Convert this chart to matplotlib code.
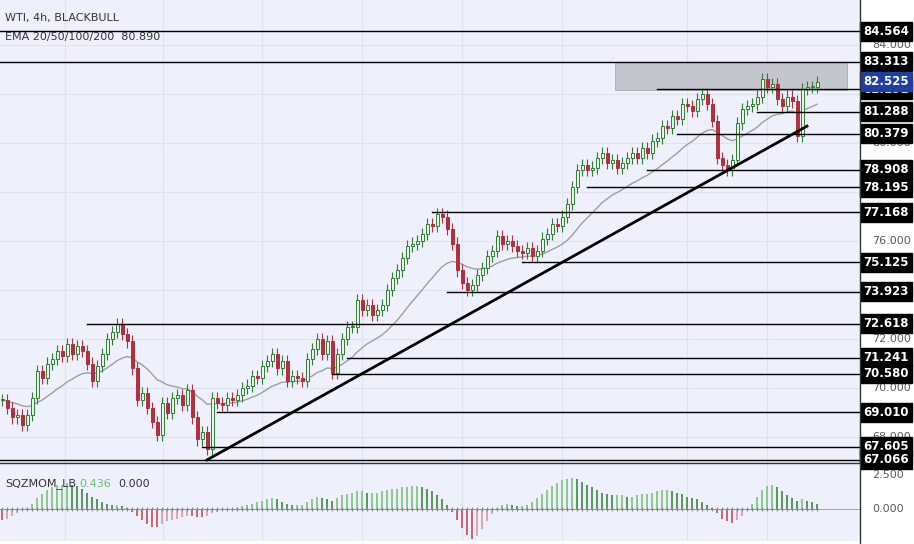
import matplotlib
matplotlib.use("Agg")
import matplotlib.pyplot as plt
from matplotlib.patches import Rectangle
import numpy as np
import pandas as pd

closes = [
    69.5, 69.2, 68.8, 68.9, 68.5,
    68.9, 69.6, 70.7, 70.4, 71.0, 71.2, 71.5,
    71.3, 71.8, 71.4, 71.7, 71.5, 71.0, 70.3,
    70.9, 71.4, 72.0, 72.3, 72.6, 72.2, 71.9,
    70.8, 69.5, 69.8, 69.2, 68.6, 68.1, 69.4,
    69.0, 69.6, 69.7, 69.3, 69.9, 68.8, 67.9,
    68.2, 67.5, 69.6, 69.4, 69.3, 69.6, 69.5,
    69.7, 70.0, 70.1, 70.5, 70.4, 70.9, 71.1,
    71.4, 70.8, 71.1, 70.3, 70.5, 70.4, 70.3,
    71.2, 71.6, 72.0, 71.4, 71.9, 70.6, 71.4,
    72.0, 72.5, 72.5, 73.6, 73.2, 73.4, 73.0,
    73.2, 73.4, 74.0, 74.5, 74.8, 75.3, 75.8,
    75.9, 76.0, 76.3, 76.7, 76.6, 77.1, 77.0,
    76.5, 75.9, 74.8, 74.3, 74.0, 74.2, 74.6,
    74.9, 75.4, 75.6, 76.2, 75.9, 76.0, 75.8,
    75.6, 75.5, 75.7, 75.4, 75.6, 76.1, 76.3,
    76.7, 76.6, 77.0, 77.5, 78.2, 78.9, 79.1,
    78.9, 79.0, 79.4, 79.6, 79.2, 79.3, 79.0,
    79.2, 79.4, 79.6, 79.4, 79.8, 79.6, 80.1,
    80.2, 80.7, 80.6, 81.1, 81.0, 81.6, 81.5,
    81.3, 81.8, 82.0, 81.6, 80.9, 79.4, 79.1,
    78.9, 79.3, 80.8, 81.4, 81.5, 81.6, 81.9,
    82.6, 82.3, 82.4, 81.8, 81.5, 81.9, 81.7,
    80.3, 82.2, 82.3, 82.3, 82.5,
]

momentum = [
    -0.8, -0.7, -0.5, -0.3, -0.1,
    0.1, 0.4, 0.8, 1.1, 1.4, 1.6, 1.8,
    1.8, 1.9, 1.8, 1.7, 1.5, 1.2, 0.9,
    0.7, 0.5, 0.4, 0.3, 0.3, 0.2, 0.1,
    -0.2, -0.5, -0.8, -1.1, -1.3, -1.3, -1.1,
    -0.9, -0.8, -0.7, -0.6, -0.5, -0.5, -0.6,
    -0.6, -0.5, -0.3, -0.2, -0.1, -0.1, 0.0,
    0.1, 0.2, 0.3, 0.4, 0.5, 0.6, 0.7,
    0.8, 0.7, 0.5, 0.4, 0.3, 0.3, 0.3,
    0.5, 0.7, 0.9, 0.8, 0.7, 0.6, 0.8,
    1.0, 1.1, 1.2, 1.3, 1.3, 1.2, 1.2,
    1.2, 1.3, 1.4, 1.5, 1.5, 1.6, 1.6,
    1.7, 1.7, 1.6, 1.5, 1.3, 1.0, 0.7,
    0.3, -0.2, -0.8, -1.4, -1.9, -2.2, -2.0,
    -1.5, -0.9, -0.4, 0.1, 0.3, 0.4, 0.3,
    0.2, 0.2, 0.3, 0.5, 0.8, 1.1, 1.4,
    1.7, 1.9, 2.1, 2.2, 2.3, 2.2, 2.0,
    1.8, 1.6, 1.4, 1.2, 1.1, 1.0, 1.0,
    1.0, 0.9, 0.9, 1.0, 1.1, 1.1, 1.2,
    1.3, 1.4, 1.4, 1.3, 1.2, 1.1, 0.9,
    0.8, 0.7, 0.5, 0.3, 0.1, -0.3, -0.7,
    -0.9, -1.0, -0.8, -0.5, -0.1, 0.4, 0.9,
    1.4, 1.7, 1.8, 1.6, 1.3, 1.0, 0.8,
    0.6, 0.7, 0.6, 0.5, 0.4,
]

# horizontal levels: (price, starting candle index)
levels = [84.564, 83.313, 82.191, 81.288, 80.379, 78.908, 78.195, 77.168,
          75.125, 73.923, 72.618, 71.241, 70.580, 69.010, 67.605, 67.066]
level_start = [-1, -1, 131, 151, 135, 129, 117, 86, 104, 89, 17, 69, 66, 43, 40, -1]
trend_idx = [41, 161]
trend_price = [67.066, 80.69]
zone_idx = [122.5, 169]
zone_price = [82.16, 83.313]
last_price = 82.525
price_ticks = [68, 70, 72, 74, 76, 78, 80, 82, 84]
shown_ticks = [68, 70, 72, 76, 80, 84]  # the others sit fully under level boxes

BG = "#eef1fb"
UP = "#2e7d32"
DOWN = "#b22f3c"

fig = plt.figure(figsize=(9.14, 5.44), dpi=100, facecolor="white")
W, H = 914, 544
ax = fig.add_axes([0, (H - 463) / H, 860 / W, 463 / H])
axm = fig.add_axes([0, (H - 541) / H, 860 / W, (541 - 463) / H])

xs = np.arange(len(closes))
opens = [closes[0]] + closes[:-1]
for a in (ax, axm):
    a.set_facecolor(BG)
    a.set_xlim(-0.4, 171.6)
    for gx in [12.6, 32.2, 52, 72, 92, 112, 137, 153]:
        a.axvline(gx, color="#dfe3ef", lw=0.8, zorder=0)
    a.tick_params(left=False, bottom=False, labelbottom=False, labelleft=False)
    for s in a.spines.values():
        s.set_visible(False)

ax.set_ylim(66.94, 85.84)
for p in price_ticks:
    ax.axhline(p, color="#dfe3ef", lw=0.8, zorder=0)
for p in shown_ticks:
    ax.text(1.014, p, f"{p:.3f}", transform=ax.get_yaxis_transform(), fontsize=8,
            color="#5a5a5a", va="center", ha="left", clip_on=False)

# EMA line
ema = pd.Series(closes).ewm(span=20, adjust=False).mean()
ax.plot(xs, ema, color="#9e9e9e", lw=1.0, zorder=2)

for i, (o, c) in enumerate(zip(opens, closes)):
    col = UP if c >= o else DOWN
    ax.vlines(i, min(o, c) - 0.25, max(o, c) + 0.25, color=col, lw=0.8, zorder=3)
    h = max(abs(c - o), 0.04)
    ax.add_patch(Rectangle((i - 0.3, min(o, c)), 0.6, h, facecolor=col if c < o else "#e8f5e9",
                           edgecolor=col, lw=0.7, zorder=4))

ax.add_patch(Rectangle((zone_idx[0], zone_price[0]), zone_idx[1] - zone_idx[0],
                       zone_price[1] - zone_price[0], facecolor="#b8b8be", alpha=0.75,
                       edgecolor="#9a9a9a", lw=0.6, zorder=1))

for lv, st in zip(levels, level_start):
    ax.plot([st, 171.6], [lv, lv], color="black", lw=1.0, zorder=5, clip_on=False)

ax.plot(trend_idx, trend_price, color="black", lw=2.0, zorder=6)

trans = ax.get_yaxis_transform()
for lv in levels:
    ax.text(1.0305, lv, f"{lv:.3f}", transform=trans, fontsize=8.5, color="white",
            fontweight="bold", va="center", ha="center", clip_on=False, zorder=10,
            bbox=dict(boxstyle="square,pad=0.25", fc="black", ec="black"))
ax.text(1.0305, last_price, f"{last_price:.3f}", transform=trans, fontsize=8.5,
        color="white", fontweight="bold", va="center", ha="center", clip_on=False, zorder=11,
        bbox=dict(boxstyle="square,pad=0.25", fc="#1e3fa0", ec="#1e3fa0"))

ax.text(0.006, 1 - 18 / 463, "WTI, 4h, BLACKBULL", transform=ax.transAxes, fontsize=8,
        color="#333333", va="center")
ax.text(0.006, 1 - 37 / 463, "EMA 20/50/100/200  80.890", transform=ax.transAxes,
        fontsize=8, color="#333333", va="center")

# momentum histogram
axm.set_ylim(-2.35, 3.38)
mom = np.array(momentum)
prev = np.concatenate([[mom[0]], mom[:-1]])
cols = []
for m, pv in zip(mom, prev):
    if m >= 0:
        cols.append("#7cc47f" if m >= pv else "#3f8a46")
    else:
        cols.append("#c4505c" if m <= pv else "#d99aa2")
axm.bar(xs, mom, width=0.55, color=cols, alpha=0.85, zorder=2)
axm.scatter(xs, np.zeros_like(mom), marker="+", s=10, color="#888888", lw=0.8, zorder=3)
axm.axhline(0, color="#999999", lw=0.6, zorder=1)
axm.text(0.006, 1 - 21 / 78, "SQZMOM_LB", transform=axm.transAxes,
         fontsize=8, color="#333333", va="center")
axm.text(0.092, 1 - 21 / 78, "0.436", transform=axm.transAxes, fontsize=8,
         color="#6cbf6f", va="center")
axm.text(0.137, 1 - 21 / 78, "0.000", transform=axm.transAxes, fontsize=8,
         color="#333333", va="center")
for v in [2.5, 0.0]:
    axm.text(1.014, v, f"{v:.3f}", transform=axm.get_yaxis_transform(), fontsize=8,
             color="#5a5a5a", va="center", ha="left", clip_on=False)

fig.add_artist(plt.Line2D([0, 860 / W], [(H - 463) / H] * 2, color="#333333", lw=1.0))
fig.add_artist(plt.Line2D([860 / W] * 2, [0, 1], color="#333333", lw=1.0))

fig.savefig("out.png", dpi=100, facecolor=fig.get_facecolor())
